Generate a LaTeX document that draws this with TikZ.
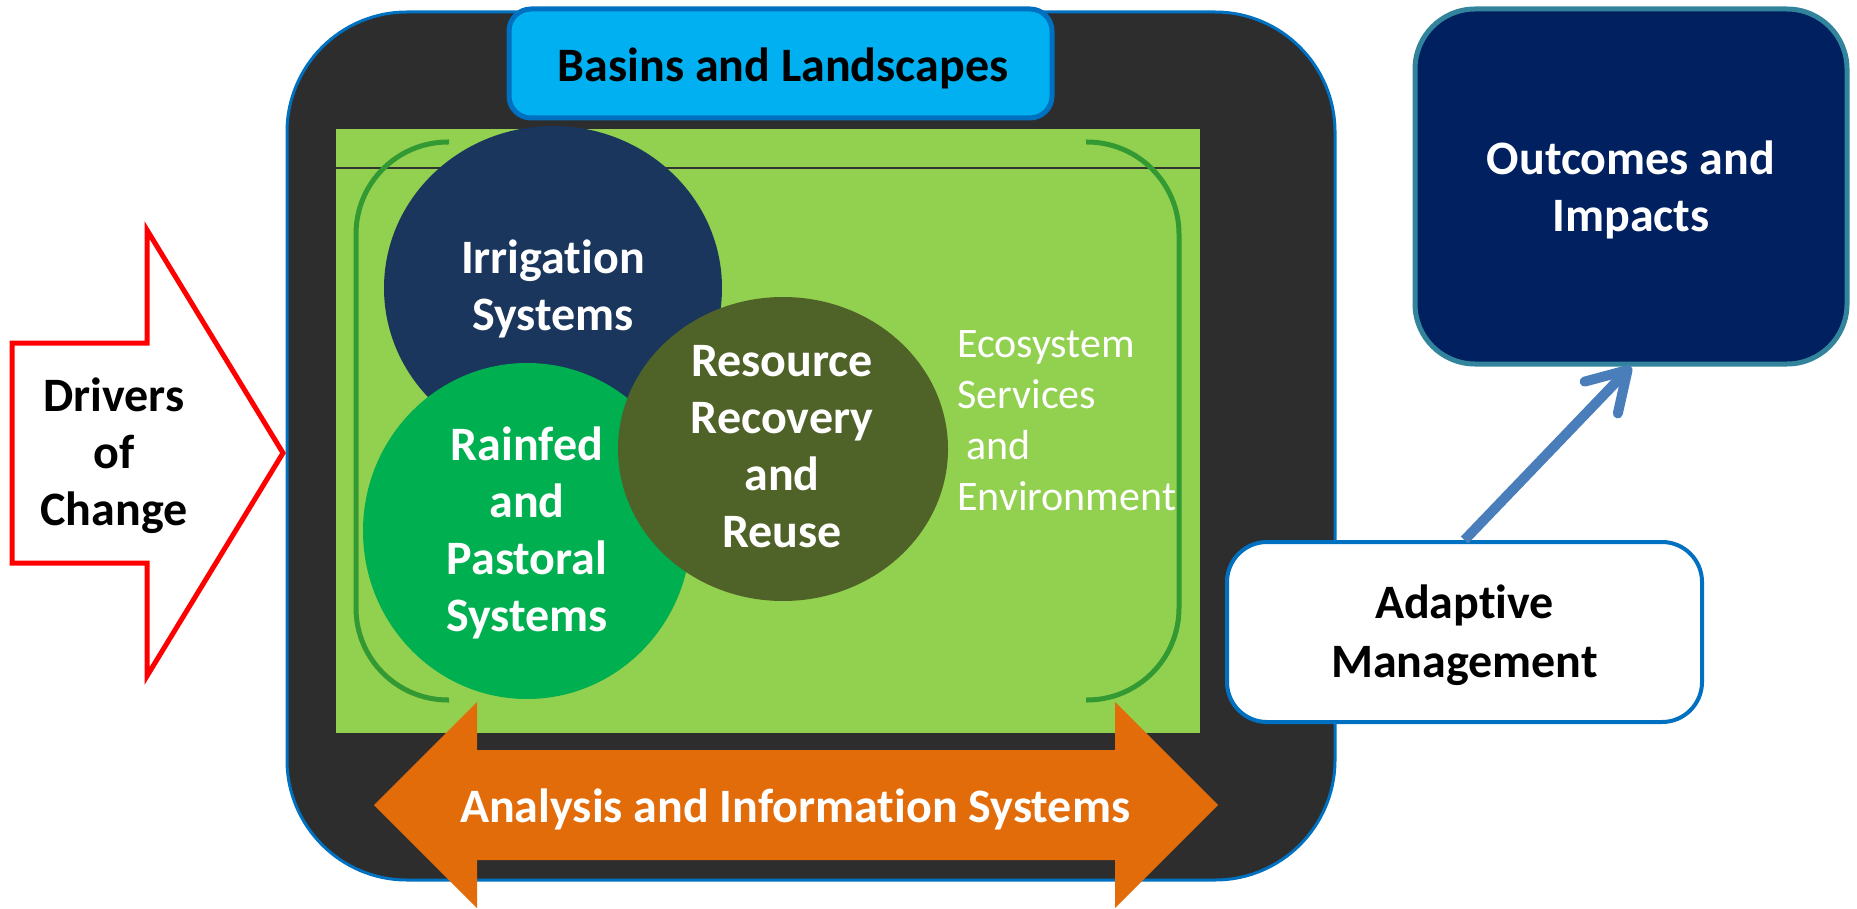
\documentclass[tikz,border=0pt]{standalone}
\usepackage{fontspec}
\setmainfont{Carlito}[Ligatures=NoCommon]
\usetikzlibrary{shapes.geometric,arrows.meta}
\definecolor{darkbox}{HTML}{2D2D2D}
\definecolor{edgeblue}{HTML}{0070C0}
\definecolor{bggreen}{HTML}{92D050}
\definecolor{brgreen}{HTML}{339933}
\definecolor{irrblue}{HTML}{1B365D}
\definecolor{raingreen}{HTML}{00B050}
\definecolor{resolive}{HTML}{4F6228}
\definecolor{orng}{HTML}{E36C0A}
\definecolor{outnavy}{HTML}{002060}
\definecolor{outteal}{HTML}{31849B}
\definecolor{skyb}{HTML}{00B0F0}
\definecolor{arrowblue}{HTML}{4A7EBB}
\begin{document}
\begin{tikzpicture}[x=1pt,y=-1pt,
  lbl/.style={font=\bfseries\fontsize{48}{57}\selectfont, align=center, inner sep=0pt},
  blob/.style={ellipse, inner sep=0pt, draw=none},
  bracketline/.style={draw=brgreen, line width=5pt, rounded corners=92pt},
  boxshape/.style={rectangle, inner sep=0pt}]
\useasboundingbox (0,0) rectangle (1857,909);

% dark frame
\node (frame) [boxshape, draw=edgeblue, line width=3pt, fill=darkbox, rounded corners=120pt,
  minimum width=1048pt, minimum height=868pt] at (811,446) {};
% green field
\node (field) [boxshape, fill=bggreen, minimum width=864pt, minimum height=604pt] at (768,431) {};
\coordinate (lineL) at (336,168);
\coordinate (lineR) at (1200,168);
\draw[line width=1.5pt, black!80] (lineL) -- (lineR);

% brackets
\draw[bracketline] (449,142) -- (356,142) -- (356,700) -- (449,700);
\draw[bracketline] (1086,142) -- (1179,142) -- (1179,700) -- (1086,700);

% circles
\node (irr) [blob, fill=irrblue, minimum width=338pt, minimum height=324pt] at (553,288) {};
\node (rain) [blob, fill=raingreen, minimum width=328pt, minimum height=336pt] at (527,531) {};
\node (res) [blob, fill=resolive, minimum width=330pt, minimum height=304pt] at (783,449) {};
\node (irrt) [lbl, text=white] at (553,291) {\strut Irrigation\\Systems\strut};
\node (raint) [lbl, text=white] at (527,535) {\strut Rainfed\\and\\Pastoral\\Systems\strut};
\node (rest) [lbl, text=white] at (782,451) {\strut Resource\\Recovery\\and\\Reuse\strut};
\node (eco) [anchor=west, align=left, inner sep=0pt, text=white,
  font=\fontsize{42}{51}\selectfont] at (957,424)
  {\strut Ecosystem\\Services\\\hspace*{9pt}and\\Environment\strut};

% basins box
\node (basins) [boxshape, draw=edgeblue, line width=5pt, fill=skyb, rounded corners=22pt,
  minimum width=543pt, minimum height=109pt] at (780.5,63.5) {};
\node (basinst) [lbl] at (783,70.5) {\strut Basins and Landscapes};

% orange double arrow
\fill[orng] (374,805) -- (477,702) -- (477,750) -- (1115,750) -- (1115,702) -- (1218,805)
  -- (1115,908) -- (1115,860) -- (477,860) -- (477,908) -- cycle;
\node (anat) [lbl, text=white] at (795,810.6) {\strut Analysis and Information Systems};

% drivers arrow
\draw[red, line width=5pt, fill=white, line join=miter]
  (12,343) -- (147,343) -- (147,230) -- (283,453) -- (147,676) -- (147,563) -- (12,563) -- cycle;
\node (drv) [lbl] at (114,457) {\strut Drivers\\of\\Change\strut};

% outcomes box
\node (outc) [boxshape, draw=outteal, line width=5pt, fill=outnavy, rounded corners=60pt,
  minimum width=432pt, minimum height=355pt] at (1631,186.5) {};
\node (outct) [lbl, text=white] at (1631,192) {\strut Outcomes and\\Impacts\strut};

% adaptive box
\node (adapt) [boxshape, draw=edgeblue, line width=4pt, fill=white, rounded corners=40pt,
  minimum width=475pt, minimum height=180pt] at (1464.5,632) {};
\node (adaptt) [lbl, font=\bfseries\fontsize{48}{59}\selectfont] at (1464.5,636) {\strut Adaptive\\Management\strut};

% connector
\draw[arrowblue, line width=10pt, -{Straight Barb[length=38pt,width=46pt,round]}]
  (adapt.north) -- (outc.south);
\end{tikzpicture}
\end{document}
